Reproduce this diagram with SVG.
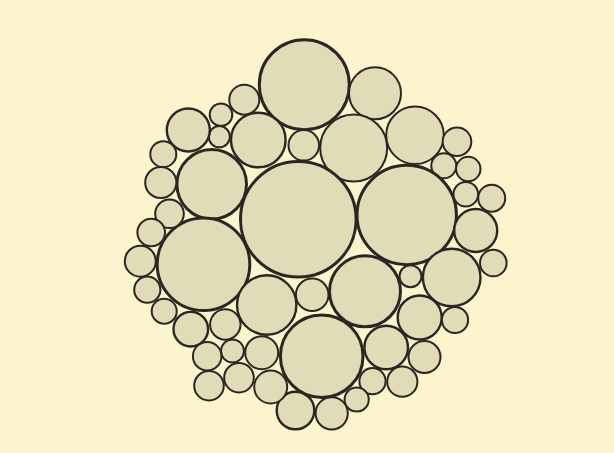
<svg xmlns="http://www.w3.org/2000/svg" width="614" height="453" viewBox="0 0 614 453">
<style>
.c{fill:#e2dbb7;stroke:#2a2723;stroke-width:2}
.m{stroke-width:2.4}
.b{stroke-width:3}
</style>
<rect width="614" height="453" fill="#fdf4cd"/>
<g id="circles">
<circle class="c b" cx="304.3" cy="84.7" r="45"/>
<circle class="c" cx="375" cy="93.3" r="26"/>
<circle class="c" cx="353.7" cy="148" r="33.5"/>
<circle class="c" cx="415" cy="135.3" r="28.8"/>
<circle class="c" cx="457" cy="141.7" r="14.3"/>
<circle class="c" cx="443.8" cy="165.8" r="12.5"/>
<circle class="c" cx="468.3" cy="169" r="12.2"/>
<circle class="c" cx="303.8" cy="145.3" r="15.3"/>
<circle class="c m" cx="258.3" cy="140" r="27.3"/>
<circle class="c" cx="244.3" cy="99.7" r="15"/>
<circle class="c" cx="221" cy="114.7" r="11.3"/>
<circle class="c" cx="219.3" cy="136.7" r="10.6"/>
<circle class="c m" cx="188.3" cy="130" r="21.5"/>
<circle class="c" cx="163.3" cy="154.2" r="13"/>
<circle class="c b" cx="211.7" cy="184.3" r="34.8"/>
<circle class="c b" cx="298.3" cy="219.2" r="57.8"/>
<circle class="c b" cx="406.7" cy="215" r="49.7"/>
<circle class="c b" cx="203.5" cy="264.2" r="46.3"/>
<circle class="c" cx="160.8" cy="182.5" r="15.6"/>
<circle class="c" cx="169.5" cy="213.8" r="14.3"/>
<circle class="c" cx="151.2" cy="232.5" r="13.8"/>
<circle class="c" cx="140.3" cy="261.2" r="15.5"/>
<circle class="c" cx="147.3" cy="289.7" r="13.1"/>
<circle class="c" cx="164.2" cy="311.2" r="12.5"/>
<circle class="c m" cx="190.8" cy="329.2" r="17.3"/>
<circle class="c" cx="225.3" cy="324.5" r="15.2"/>
<circle class="c m" cx="266.7" cy="305" r="29.7"/>
<circle class="c" cx="312.2" cy="294.8" r="16.3"/>
<circle class="c b" cx="365" cy="291.3" r="35.5"/>
<circle class="c" cx="410.5" cy="276.2" r="11"/>
<circle class="c m" cx="451.7" cy="277.5" r="28.8"/>
<circle class="c m" cx="475.7" cy="230.5" r="21.5"/>
<circle class="c" cx="491.7" cy="198.2" r="13.5"/>
<circle class="c" cx="465.8" cy="194.2" r="12.3"/>
<circle class="c" cx="493.3" cy="263" r="13.3"/>
<circle class="c m" cx="419.7" cy="317.5" r="22"/>
<circle class="c" cx="455" cy="320" r="13.1"/>
<circle class="c m" cx="386.2" cy="347.5" r="21.8"/>
<circle class="c" cx="424.5" cy="357" r="16"/>
<circle class="c" cx="402.3" cy="381.7" r="15.1"/>
<circle class="c" cx="372.5" cy="381.2" r="13.1"/>
<circle class="c" cx="356.7" cy="399.5" r="12.1"/>
<circle class="c" cx="331.7" cy="413.3" r="16.1"/>
<circle class="c m" cx="295.5" cy="410.5" r="18.8"/>
<circle class="c b" cx="321.7" cy="356.2" r="41.3"/>
<circle class="c" cx="207.2" cy="356.2" r="14.3"/>
<circle class="c" cx="232.5" cy="351" r="11.5"/>
<circle class="c" cx="261.7" cy="352.7" r="16.5"/>
<circle class="c" cx="209" cy="385.7" r="14.8"/>
<circle class="c" cx="239" cy="377.7" r="14.8"/>
<circle class="c" cx="270.7" cy="387" r="16.5"/>
</g>
</svg>
